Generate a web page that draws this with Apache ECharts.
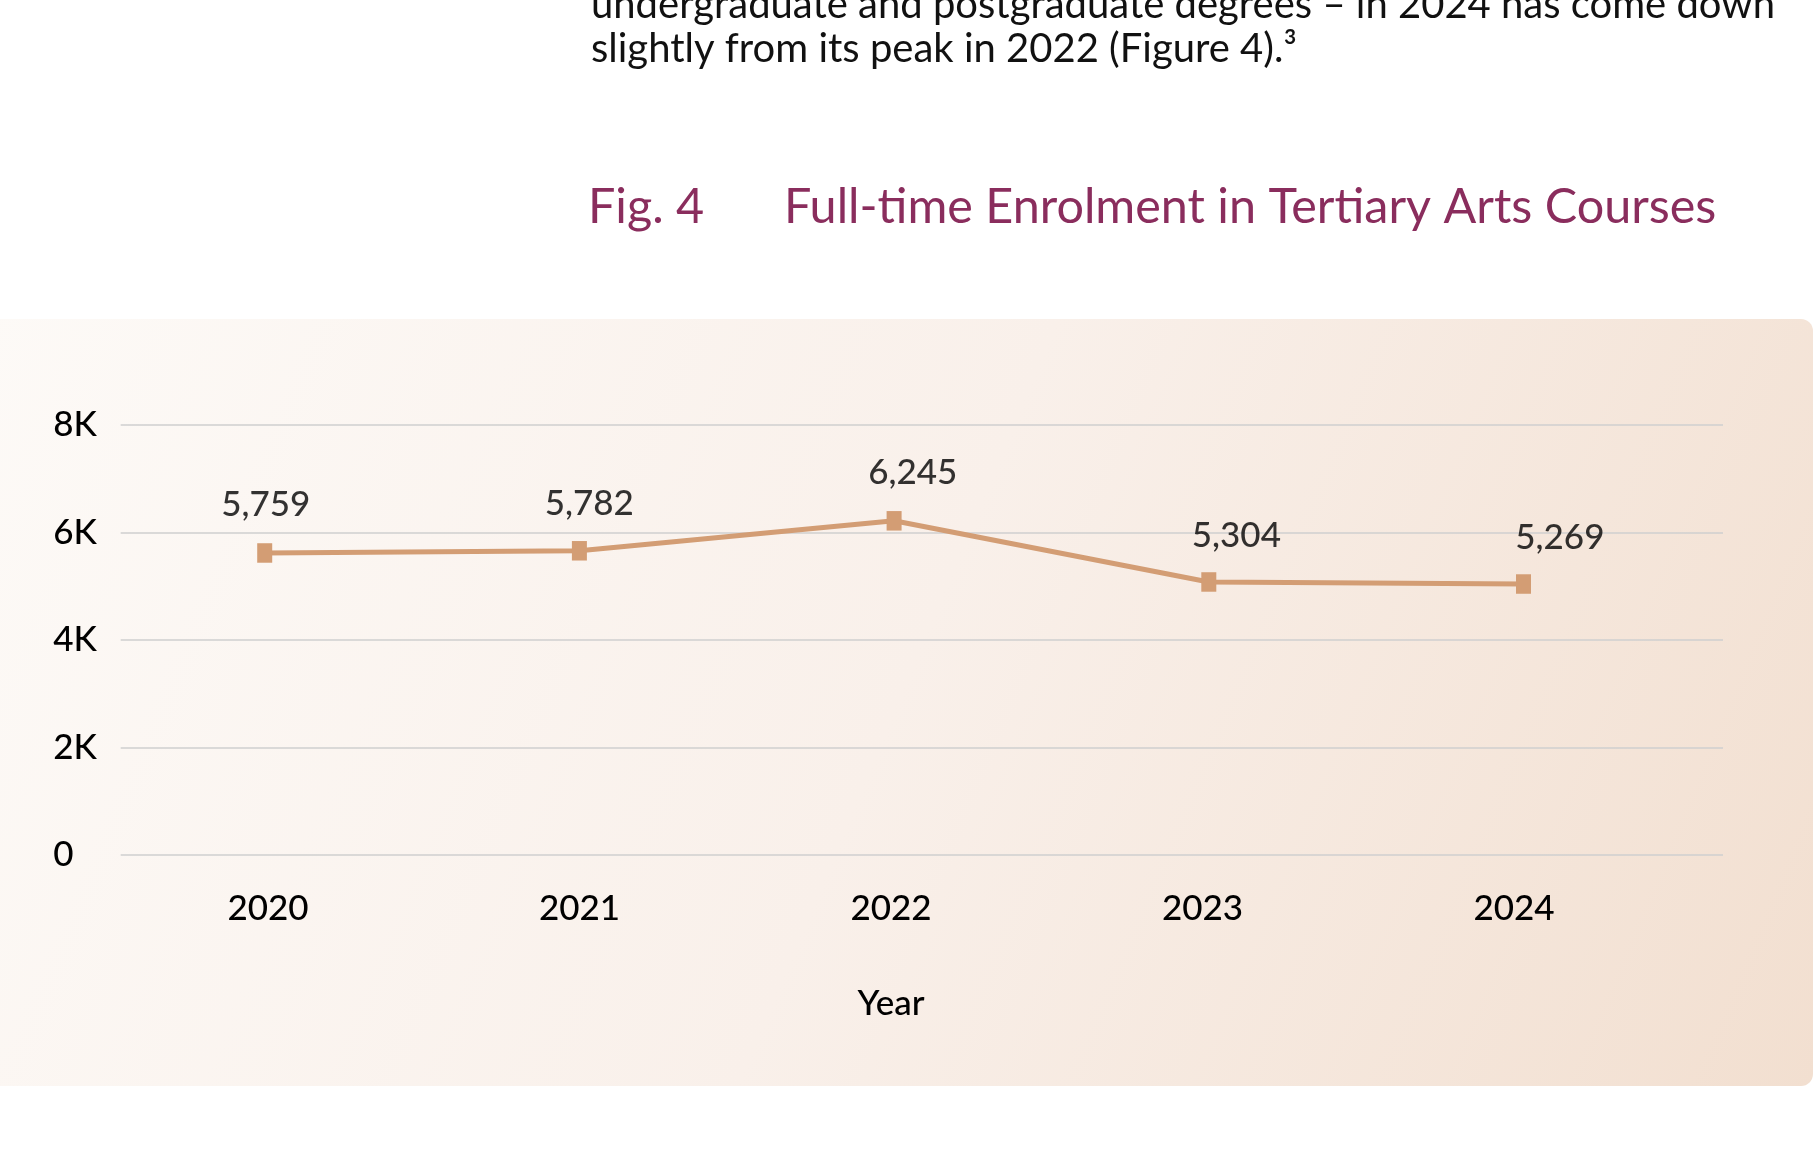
<!DOCTYPE html>
<html lang="en">
<head>
    <meta charset="UTF-8">
    <title>Fig. 4 Full-time Enrolment in Tertiary Arts Courses</title>
    <style>
        html, body {
            margin: 0;
            padding: 0;
            background: #fff;
        }
        #chart {
            width: 1816px;
            height: 1164px;
        }
    </style>
</head>
<body>
    <div id="chart"></div>
    <script src="https://cdn.jsdelivr.net/npm/echarts@6/dist/echarts.min.js"></script>
    <script>
        var years = ['2020', '2021', '2022', '2023', '2024'];
        // where the markers sit on the 0-8K scale
        var enrolment = [5615, 5656, 6213, 5076, 5038];
        // numbers printed above the markers
        var labelValues = [5759, 5782, 6245, 5304, 5269];
        var yTickLabels = ['0', '2K', '4K', '6K', '8K'];

        var FONT = 'Lato';
        var INK = '#000000';
        var LINE = '#d39d74';

        var myChart = echarts.init(document.getElementById('chart'));

        // each grid shares the same 0-8K scale, only the boxes differ
        function hiddenValueAxis(idx) {
            return { type: 'value', gridIndex: idx, min: 0, max: 8000, show: false };
        }
        function hiddenCatAxis(idx) {
            return { type: 'category', gridIndex: idx, data: years, show: false };
        }

        var titleStyle = { fontFamily: FONT, fontSize: 48.5, fontWeight: 'normal', color: '#8a2d5d', lineHeight: 49 };

        var option = {
            animation: false,
            backgroundColor: '#ffffff',
            textStyle: { fontFamily: FONT },
            title: [{
                text: 'Fig. 4',
                left: 583,
                top: 178,
                textStyle: titleStyle
            }, {
                text: 'Full-time Enrolment in Tertiary Arts Courses',
                left: 779,
                top: 178,
                textStyle: titleStyle
            }],
            graphic: [{
                type: 'rect',
                z: -10,
                silent: true,
                shape: { x: -20, y: 319, width: 1833, height: 767, r: 12 },
                style: {
                    fill: new echarts.graphic.LinearGradient(0, 0, 1, 1, [
                        { offset: 0, color: '#fdfaf7' },
                        { offset: 0.5, color: '#f9f0ea' },
                        { offset: 1, color: '#f2dfd0' }
                    ])
                }
            }, {
                type: 'text',
                x: 591,
                y: 5,
                style: {
                    text: 'undergraduate and postgraduate degrees \u2013 in 2024 has come down',
                    font: '40px Lato',
                    fill: '#111111',
                    verticalAlign: 'middle'
                }
            }, {
                type: 'text',
                x: 591,
                y: 49,
                style: {
                    text: 'slightly from its peak in 2022 (Figure 4).\u00b3',
                    font: '40px Lato',
                    fill: '#111111',
                    verticalAlign: 'middle'
                }
            }, {
                // y axis name, mostly off the left edge
                type: 'text',
                x: 4.5,
                y: 645,
                rotation: Math.PI / 2,
                style: {
                    text: 'Number of Students',
                    font: '35px Lato',
                    fill: '#444444',
                    align: 'center',
                    verticalAlign: 'bottom'
                }
            }],
            grid: [
                // gridlines and y labels
                { left: 120.7, right: 93, top: 424.7, bottom: 309, outerBoundsMode: 'none' },
                // the line
                { left: 107.35, right: 135.15, top: 424.7, bottom: 309, outerBoundsMode: 'none' },
                // value labels
                { left: 104, right: 94.4, top: 354.4, bottom: 271.5, outerBoundsMode: 'none' },
                // year labels
                { left: 112.25, right: 146.25, top: 424.7, bottom: 309, outerBoundsMode: 'none' }
            ],
            xAxis: [
                hiddenCatAxis(0),
                hiddenCatAxis(1),
                hiddenCatAxis(2),
                {
                    type: 'category',
                    gridIndex: 3,
                    data: years,
                    axisLine: { show: false },
                    axisTick: { show: false },
                    axisLabel: {
                        margin: 34,
                        fontFamily: FONT,
                        fontSize: 35,
                        fontWeight: 500,
                        lineHeight: 40,
                        color: INK
                    },
                    name: 'Year',
                    nameLocation: 'middle',
                    nameGap: 129,
                    nameTextStyle: { fontFamily: FONT, fontSize: 35, fontWeight: 500, lineHeight: 40, color: INK }
                }
            ],
            yAxis: [
                {
                    type: 'value',
                    gridIndex: 0,
                    min: 0,
                    max: 8000,
                    interval: 2000,
                    axisLine: { show: false },
                    axisTick: { show: false },
                    axisLabel: {
                        align: 'left',
                        margin: 67.4,
                        fontFamily: FONT,
                        fontSize: 35,
                        fontWeight: 500,
                        color: INK,
                        formatter: function (value, index) {
                            return yTickLabels[index];
                        }
                    },
                    splitLine: { lineStyle: { color: '#cfcfcf', width: 1.5 } }
                },
                hiddenValueAxis(1),
                hiddenValueAxis(2),
                hiddenValueAxis(3)
            ],
            series: [{
                name: 'Enrolment',
                type: 'line',
                xAxisIndex: 1,
                yAxisIndex: 1,
                data: enrolment,
                symbol: 'rect',
                symbolSize: [15, 19.5],
                lineStyle: { color: LINE, width: 5 },
                itemStyle: { color: LINE },
                z: 3
            }, {
                name: 'Labels',
                type: 'scatter',
                xAxisIndex: 2,
                yAxisIndex: 2,
                data: labelValues,
                symbolSize: 1,
                itemStyle: { color: 'rgba(0,0,0,0)' },
                label: {
                    show: true,
                    position: 'inside',
                    fontFamily: FONT,
                    fontSize: 35,
                    fontWeight: 500,
                    color: INK,
                    formatter: function (p) {
                        return p.value.toLocaleString('en-US');
                    }
                },
                z: 4
            }]
        };
        myChart.setOption(option);
    </script>
</body>
</html>
